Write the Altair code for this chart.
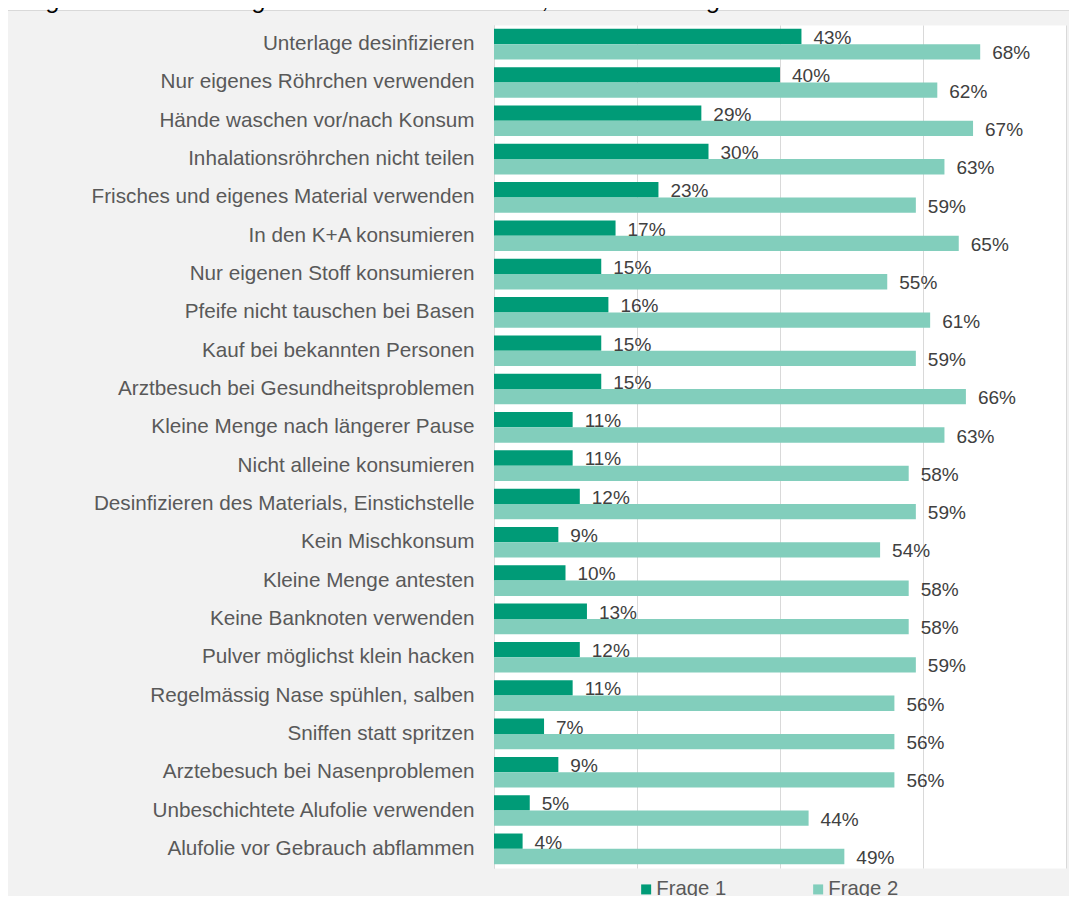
import altair as alt
import pandas as pd

categories = [
    "Unterlage desinfizieren",
    "Nur eigenes Röhrchen verwenden",
    "Hände waschen vor/nach Konsum",
    "Inhalationsröhrchen nicht teilen",
    "Frisches und eigenes Material verwenden",
    "In den K+A konsumieren",
    "Nur eigenen Stoff konsumieren",
    "Pfeife nicht tauschen bei Basen",
    "Kauf bei bekannten Personen",
    "Arztbesuch bei Gesundheitsproblemen",
    "Kleine Menge nach längerer Pause",
    "Nicht alleine konsumieren",
    "Desinfizieren des Materials, Einstichstelle",
    "Kein Mischkonsum",
    "Kleine Menge antesten",
    "Keine Banknoten verwenden",
    "Pulver möglichst klein hacken",
    "Regelmässig Nase spühlen, salben",
    "Sniffen statt spritzen",
    "Arztebesuch bei Nasenproblemen",
    "Unbeschichtete Alufolie verwenden",
    "Alufolie vor Gebrauch abflammen",
]
frage1 = [43, 40, 29, 30, 23, 17, 15, 16, 15, 15, 11, 11, 12, 9, 10, 13, 12, 11, 7, 9, 5, 4]
frage2 = [68, 62, 67, 63, 59, 65, 55, 61, 59, 66, 63, 58, 59, 54, 58, 58, 59, 56, 56, 56, 44, 49]
series = ["Frage 1", "Frage 2"]
colors = ["#009B77", "#82CEBC"]
grid_values = [0, 20, 40, 60, 80]
title_text = "Frage 2: Kennst du folgende Arten des Konsums, damit es weniger schädlich ist?"

rows = []
for s, vals in zip(series, [frage1, frage2]):
    for c, v in zip(categories, vals):
        rows.append({"Kategorie": c, "Serie": s, "Wert": v, "Label": f"{v}%"})
df = pd.DataFrame(rows)

FONT = "Liberation Sans"

y_enc = alt.Y(
    "Kategorie:N",
    sort=categories,
    scale=alt.Scale(paddingInner=0.2, paddingOuter=0.1),
    axis=alt.Axis(
        title=None, ticks=False, labelPadding=20, labelFontSize=20.7,
        labelColor="#595959", labelFont=FONT, domainColor="#d9d9d9",
        labelLimit=0,
    ),
)
yoff = alt.YOffset("Serie:N", sort=series, scale=alt.Scale(paddingInner=0, paddingOuter=0))
x_enc = alt.X(
    "Wert:Q",
    scale=alt.Scale(domain=[0, 80], nice=False),
    axis=alt.Axis(
        title=None, labels=False, ticks=False, domain=False, grid=True,
        gridColor="#d9d9d9", values=grid_values,
    ),
)

base = alt.Chart(df)

bars = base.mark_bar().encode(
    x=x_enc,
    y=y_enc,
    yOffset=yoff,
    color=alt.Color(
        "Serie:N",
        sort=series,
        scale=alt.Scale(domain=series, range=colors),
        legend=alt.Legend(
            title=None, orient="none", legendX=142, legendY=854,
            direction="horizontal", symbolType="square", symbolSize=100,
            labelFontSize=20.3, labelColor="#595959", labelFont=FONT,
            columnPadding=81, labelOffset=0, symbolStrokeWidth=0,
        ),
    ),
)

labels = base.mark_text(
    align="left", baseline="alphabetic", dx=12, dy=7.5,
    fontSize=19, color="#404040", font=FONT,
).encode(
    x="Wert:Q",
    y=alt.Y("Kategorie:N", sort=categories),
    yOffset=alt.YOffset("Serie:N", sort=series),
    text="Label:N",
)

deco = alt.Chart(pd.DataFrame({"t": [title_text]}))
strip = deco.mark_rect(color="white").encode(
    x=alt.value(-486), x2=alt.value(575), y=alt.value(-17), y2=alt.value(-14.5)
)
border = deco.mark_rule(color="#d9d9d9", strokeWidth=1).encode(
    x=alt.value(-486), x2=alt.value(575), y=alt.value(-14.5)
)
title = deco.mark_text(
    align="left", baseline="alphabetic", fontSize=24.7, fontStyle="italic",
    color="#000000", font=FONT,
).encode(x=alt.value(-484), y=alt.value(-17), text="t:N")

chart = alt.layer(strip, border, title, bars, labels).properties(
    width=572,
    height=843,
    padding={"left": 486, "top": 17, "right": 3, "bottom": 28},
    autosize=alt.AutoSizeParams(type="none"),
    background="#f2f2f2",
).configure_view(fill="white", stroke="transparent")

chart.save("out.html", embed_options={"renderer": "svg", "actions": False})
